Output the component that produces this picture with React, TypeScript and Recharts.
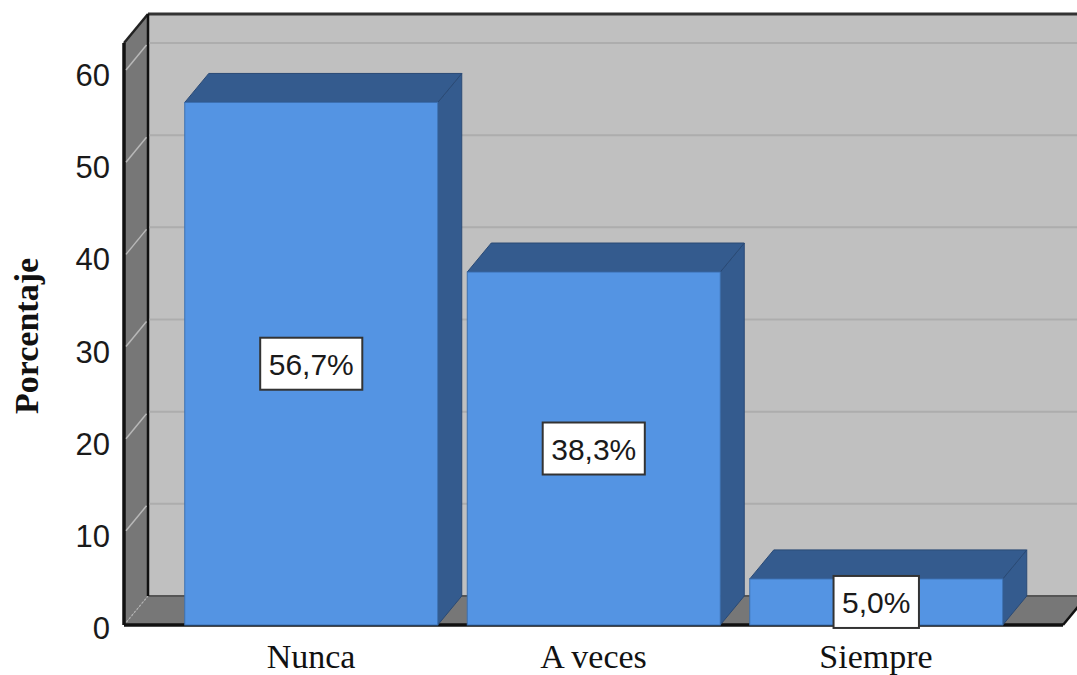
import React from 'react';
import { BarChart, Bar, XAxis, YAxis, ReferenceArea, LabelList } from 'recharts';

const categories = ['Nunca', 'A veces', 'Siempre'];
const percentages = [56.7, 38.3, 5.0];
const yTicks = [0, 10, 20, 30, 40, 50, 60];
const Y_MAX = 63.15;

const data = categories.map((c, i) => ({ cat: c, value: percentages[i] }));

const DX = 24;
const DY = 29;
const PAD = 45.75;

const FRONT = '#5494e3';
const DARK = '#345b8e';
const WALL = '#777777';
const BACK = '#c0c0c0';

const SANS = "'Liberation Sans', Arial, sans-serif";
const SERIF = "'Liberation Serif', 'Times New Roman', serif";

const Walls = (p: any) => {
  const x = p.x - PAD;
  const r = p.x + p.width + PAD;
  const y = p.y;
  const b = p.y + p.height;
  return (
    <g>
      <polygon points={`${x + DX},${y - DY} ${r + DX},${y - DY} ${r + DX},${b - DY} ${x + DX},${b - DY}`} fill={BACK} />
      <polygon points={`${x},${y} ${x + DX},${y - DY} ${x + DX},${b - DY} ${x},${b}`} fill={WALL} />
      <polygon points={`${x},${b} ${x + DX},${b - DY} ${r + DX},${b - DY} ${r},${b}`} fill={WALL} />
      <line x1={x + DX} y1={b - DY} x2={r + DX} y2={b - DY} stroke="#555" strokeWidth={2} />
      <line x1={x} y1={b} x2={x + DX} y2={b - DY} stroke="#b4b4b4" strokeWidth={1.2} strokeDasharray="2 2" />
      <line x1={x + DX} y1={y - DY} x2={r + DX} y2={y - DY} stroke="#333" strokeWidth={3} />
      <line x1={x} y1={y} x2={x + DX} y2={y - DY} stroke="#222" strokeWidth={2.5} />
      <line x1={x + DX} y1={y - DY} x2={x + DX} y2={b - DY} stroke="#111" strokeWidth={2.5} />
      <line x1={x} y1={y} x2={x} y2={b} stroke="#111" strokeWidth={3.5} />
      <line x1={x} y1={b} x2={r} y2={b} stroke="#111" strokeWidth={3.5} />
      <line x1={r} y1={b} x2={r + DX} y2={b - DY} stroke="#111" strokeWidth={2.5} />
    </g>
  );
};

const GridShape = (p: any) => {
  const lx = p.x - PAD;
  const rx = p.x + p.width + PAD;
  const gy = p.y;
  return (
    <g>
      <line x1={lx + DX + 1.5} y1={gy - DY} x2={rx + DX} y2={gy - DY} stroke="#adadad" strokeWidth={2} />
      <line x1={lx + 2} y1={gy - 2} x2={lx + DX - 1.5} y2={gy - DY + 2} stroke="#b8b8b8" strokeWidth={1.5} />
    </g>
  );
};

const Bar3D = (p: any) => {
  const { x, y, width: w, height: h } = p;
  const b = y + h;
  return (
    <g>
      <polygon points={`${x + w},${y} ${x + w + DX},${y - DY} ${x + w + DX},${b - DY} ${x + w},${b}`} fill={DARK} stroke="#2a4a75" strokeWidth={1} />
      <polygon points={`${x},${y} ${x + DX},${y - DY} ${x + w + DX},${y - DY} ${x + w},${y}`} fill={DARK} stroke="#2a4a75" strokeWidth={1} />
      <rect x={x} y={y} width={w} height={h} fill={FRONT} stroke="#3d70b0" strokeWidth={1} />
    </g>
  );
};

const charW = (ch: string) => (ch === ',' ? 8.3 : ch === '%' ? 26.7 : 16.7);

const ValueBox = (p: any) => {
  const { x, y, width, height, value } = p;
  const cx = x + width / 2;
  const cy = y + height / 2;
  const txt = Number(value).toFixed(1).replace('.', ',') + '%';
  const tw = txt.split('').reduce((s: number, c: string) => s + charW(c), 0);
  const bw = tw + 17;
  const bh = 52;
  return (
    <g>
      <rect x={cx - bw / 2} y={cy - bh / 2} width={bw} height={bh} fill="#fff" stroke="#333" strokeWidth={2} />
      <text x={cx} y={cy + 11} textAnchor="middle" fontFamily={SANS} fontSize={30} fill="#1a1a1a">{txt}</text>
    </g>
  );
};

const XTick = (p: any) => {
  const { x, payload } = p;
  return (
    <text x={x} y={668} textAnchor="middle" fontFamily={SERIF} fontSize={34} fill="#111">{payload.value}</text>
  );
};

const YTick = (p: any) => {
  const { y, payload } = p;
  return (
    <text x={110} y={y + 14} textAnchor="end" fontFamily={SANS} fontSize={31} fill="#1a1a1a">{payload.value}</text>
  );
};

const YTitle = () => (
  <text x={37.5} y={336} transform="rotate(-90 37.5 336)" textAnchor="middle" fontFamily={SERIF} fontWeight="bold" fontSize={34} fill="#111">Porcentaje</text>
);

export default function App() {
  return (
    <div style={{ position: 'absolute', left: 0, top: 0, width: 1077, height: 675, background: '#fff' }}>
      <BarChart width={1077} height={675} data={data} margin={{ top: 43, right: 14, left: 64, bottom: 20 }}>
        <XAxis dataKey="cat" padding={{ left: PAD, right: PAD }} axisLine={false} tickLine={false} tick={XTick} interval={0} height={30} />
        <YAxis width={60} domain={[0, Y_MAX]} ticks={yTicks} axisLine={false} tickLine={false} tick={YTick} label={<YTitle />} />
        <ReferenceArea y1={0} y2={Y_MAX} shape={Walls} ifOverflow="visible" />
        {yTicks.filter((t) => t > 0).map((t) => (
          <ReferenceArea key={t} y1={0} y2={t} shape={GridShape} ifOverflow="visible" />
        ))}
        <Bar dataKey="value" barSize={253} shape={Bar3D} isAnimationActive={false}>
          <LabelList dataKey="value" content={ValueBox} />
        </Bar>
      </BarChart>
    </div>
  );
}
